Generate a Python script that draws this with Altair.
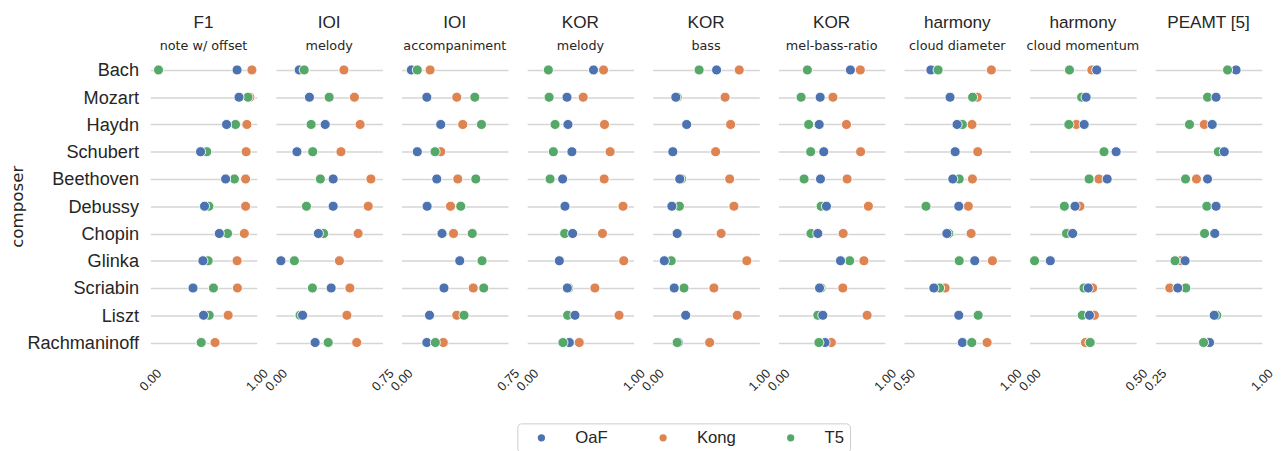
import altair as alt
import pandas as pd

composers = ["Bach", "Mozart", "Haydn", "Schubert", "Beethoven", "Debussy",
             "Chopin", "Glinka", "Scriabin", "Liszt", "Rachmaninoff"]
models = ["OaF", "Kong", "T5"]
model_colors = ["#4c72b0", "#dd8452", "#55a868"]

panel_titles = ["F1", "IOI", "IOI", "KOR", "KOR", "KOR", "harmony", "harmony", "PEAMT [5]"]
panel_subtitles = ["note w/ offset", "melody", "accompaniment", "melody", "bass",
                   "mel-bass-ratio", "cloud diameter", "cloud momentum", " "]
panel_domains = [(0, 1), (0, 0.75), (0, 0.75), (0, 1), (0, 1), (0, 1),
                 (0.5, 1), (0, 0.5), (0.25, 1)]

# F1 note w/ offset
f1_oaf = [0.815, 0.833, 0.716, 0.472, 0.707, 0.509, 0.648, 0.494, 0.401, 0.500, 0.478]
f1_kong = [0.954, 0.935, 0.907, 0.900, 0.895, 0.895, 0.883, 0.815, 0.818, 0.731, 0.608]
f1_t5 = [0.077, 0.917, 0.800, 0.530, 0.790, 0.550, 0.725, 0.543, 0.593, 0.553, 0.478]
# IOI melody
ioim_oaf = [0.164, 0.236, 0.347, 0.148, 0.403, 0.403, 0.299, 0.035, 0.389, 0.188, 0.276]
ioim_kong = [0.479, 0.553, 0.593, 0.458, 0.669, 0.650, 0.579, 0.447, 0.521, 0.500, 0.569]
ioim_t5 = [0.199, 0.375, 0.248, 0.259, 0.313, 0.215, 0.336, 0.130, 0.257, 0.170, 0.368]
# IOI accompaniment
ioia_oaf = [0.069, 0.178, 0.276, 0.111, 0.248, 0.180, 0.285, 0.410, 0.299, 0.197, 0.178]
ioia_kong = [0.201, 0.389, 0.431, 0.276, 0.396, 0.345, 0.366, None, 0.505, 0.389, 0.294]
ioia_t5 = [0.111, 0.516, 0.563, 0.236, 0.523, 0.417, 0.498, 0.567, 0.579, 0.440, 0.238]
# KOR melody
korm_oaf = [0.623, 0.374, 0.383, 0.420, 0.333, 0.355, 0.427, 0.302, 0.377, 0.449, 0.396]
korm_kong = [0.717, 0.526, 0.726, 0.779, 0.723, 0.900, 0.707, 0.907, 0.636, 0.863, 0.489]
korm_t5 = [0.199, 0.206, 0.262, 0.246, 0.215, None, 0.352, None, 0.390, 0.380, 0.336]
# KOR bass
korb_oaf = [0.599, 0.216, 0.318, 0.188, 0.253, 0.179, 0.229, 0.108, 0.201, 0.309, 0.240]
korb_kong = [0.812, 0.679, 0.731, 0.590, 0.722, 0.762, 0.642, 0.883, 0.574, 0.793, 0.534]
korb_t5 = [0.435, 0.230, None, None, 0.270, 0.250, None, 0.173, 0.293, None, 0.229]
# KOR mel-bass-ratio
korr_oaf = [0.676, 0.392, 0.383, 0.426, 0.395, 0.451, 0.370, 0.583, 0.386, 0.417, 0.438]
korr_kong = [0.769, 0.512, 0.639, 0.772, 0.645, 0.845, 0.608, 0.803, 0.605, 0.833, 0.497]
korr_t5 = [0.272, 0.213, 0.284, 0.303, 0.241, 0.401, 0.306, 0.669, 0.400, 0.370, 0.380]
# harmony cloud diameter
hcd_oaf = [0.626, 0.716, 0.749, 0.740, 0.729, 0.757, 0.701, 0.832, 0.640, 0.757, 0.774]
hcd_kong = [0.910, 0.844, 0.819, 0.846, 0.821, 0.802, 0.815, 0.915, 0.693, None, 0.890]
hcd_t5 = [0.660, 0.822, 0.774, None, 0.759, 0.603, 0.710, 0.759, 0.667, 0.848, 0.818]
# harmony cloud momentum
hcm_oaf = [0.315, 0.265, 0.256, 0.406, 0.364, 0.213, 0.202, 0.097, 0.275, 0.281, 0.284]
hcm_kong = [0.292, None, 0.219, None, 0.325, 0.236, None, None, 0.296, 0.304, 0.262]
hcm_t5 = [0.187, 0.244, 0.184, 0.349, 0.279, 0.163, 0.173, 0.023, 0.255, 0.247, 0.284]
# PEAMT [5]
peamt_oaf = [0.819, 0.678, 0.651, 0.736, 0.618, 0.678, 0.669, 0.460, 0.408, 0.665, 0.632]
peamt_kong = [None, None, 0.595, None, 0.540, None, None, 0.430, 0.352, None, None]
peamt_t5 = [0.759, 0.618, 0.491, 0.694, 0.463, 0.613, 0.597, 0.389, 0.465, 0.683, 0.590]

panel_values = [
    (f1_oaf, f1_kong, f1_t5),
    (ioim_oaf, ioim_kong, ioim_t5),
    (ioia_oaf, ioia_kong, ioia_t5),
    (korm_oaf, korm_kong, korm_t5),
    (korb_oaf, korb_kong, korb_t5),
    (korr_oaf, korr_kong, korr_t5),
    (hcd_oaf, hcd_kong, hcd_t5),
    (hcm_oaf, hcm_kong, hcm_t5),
    (peamt_oaf, peamt_kong, peamt_t5),
]

# drawing order: Kong at the bottom; T5 above OaF for these composers
t5_on_top = ["Bach", "Rachmaninoff"]

TEXT = "#262626"
SANS = "Liberation Sans"

charts = []
for i, vals in enumerate(panel_values):
    rows = []
    for m, series in zip(models, vals):
        for c, v in zip(composers, series):
            if v is None:
                continue
            if m == "Kong":
                z = 0
            elif m == "T5":
                z = 2 if c in t5_on_top else 1
            else:
                z = 1 if c in t5_on_top else 2
            rows.append({"composer": c, "model": m, "value": v, "z": z})
    df = pd.DataFrame(rows).sort_values("z", kind="stable")
    lo, hi = panel_domains[i]
    if i == 0:
        yaxis = alt.Axis(title="composer", titleFont="DejaVu Sans", titleFontSize=17,
                         titleFontWeight="normal", titleColor=TEXT, titlePadding=0,
                         labelFont=SANS, labelFontSize=18.5, labelColor=TEXT,
                         labelPadding=12, ticks=False, domain=False, grid=True)
    else:
        yaxis = alt.Axis(title=None, labels=False, ticks=False, domain=False,
                         grid=True, minExtent=0)
    ch = alt.Chart(df).mark_circle(size=105, opacity=1, stroke="white", strokeWidth=0.9).encode(
        x=alt.X("value:Q",
                scale=alt.Scale(domain=[lo, hi], nice=False, zero=False),
                axis=alt.Axis(values=[lo, hi], format=".2f", labelAngle=-45,
                              labelAlign="center", labelBaseline="middle",
                              labelPadding=24, labelFlush=False, labelOverlap=False,
                              labelBound=False, ticks=False, domain=False, grid=False,
                              title=None, labelFont=SANS, labelFontSize=13,
                              labelColor=TEXT)),
        y=alt.Y("composer:N", sort=composers,
                scale=alt.Scale(type="point", padding=0.5), axis=yaxis),
        color=alt.Color("model:N",
                        scale=alt.Scale(domain=models, range=model_colors),
                        legend=alt.Legend(title=None, orient="none", direction="horizontal",
                                          legendX=374, legendY=374)),
        order=alt.Order("z:Q"),
    ).properties(
        width=108.5, height=305.5,
        title=alt.TitleParams(text=panel_titles[i], subtitle=panel_subtitles[i],
                              anchor="middle", font=SANS, fontSize=17.5,
                              fontWeight="normal", color=TEXT,
                              subtitleFont="DejaVu Sans", subtitleFontSize=13,
                              subtitleColor=TEXT, subtitlePadding=9, offset=3),
    )
    charts.append(ch)

chart = alt.hconcat(*charts, spacing=19, bounds="flush").properties(
    padding={"left": 1, "top": 2, "right": 0, "bottom": 0}
).configure_view(stroke=None).configure_axis(
    gridColor="#d5d5d5", gridWidth=1.5
).configure_legend(
    symbolType="circle", symbolSize=55, symbolStrokeWidth=0,
    labelFont=SANS, labelFontSize=17, labelColor=TEXT, labelOffset=26,
    columnPadding=37, padding=6, strokeColor="#cccccc", cornerRadius=4,
    fillColor="white", symbolOffset=10
)

chart.save("out.html", embed_options={"renderer": "svg", "actions": False})
